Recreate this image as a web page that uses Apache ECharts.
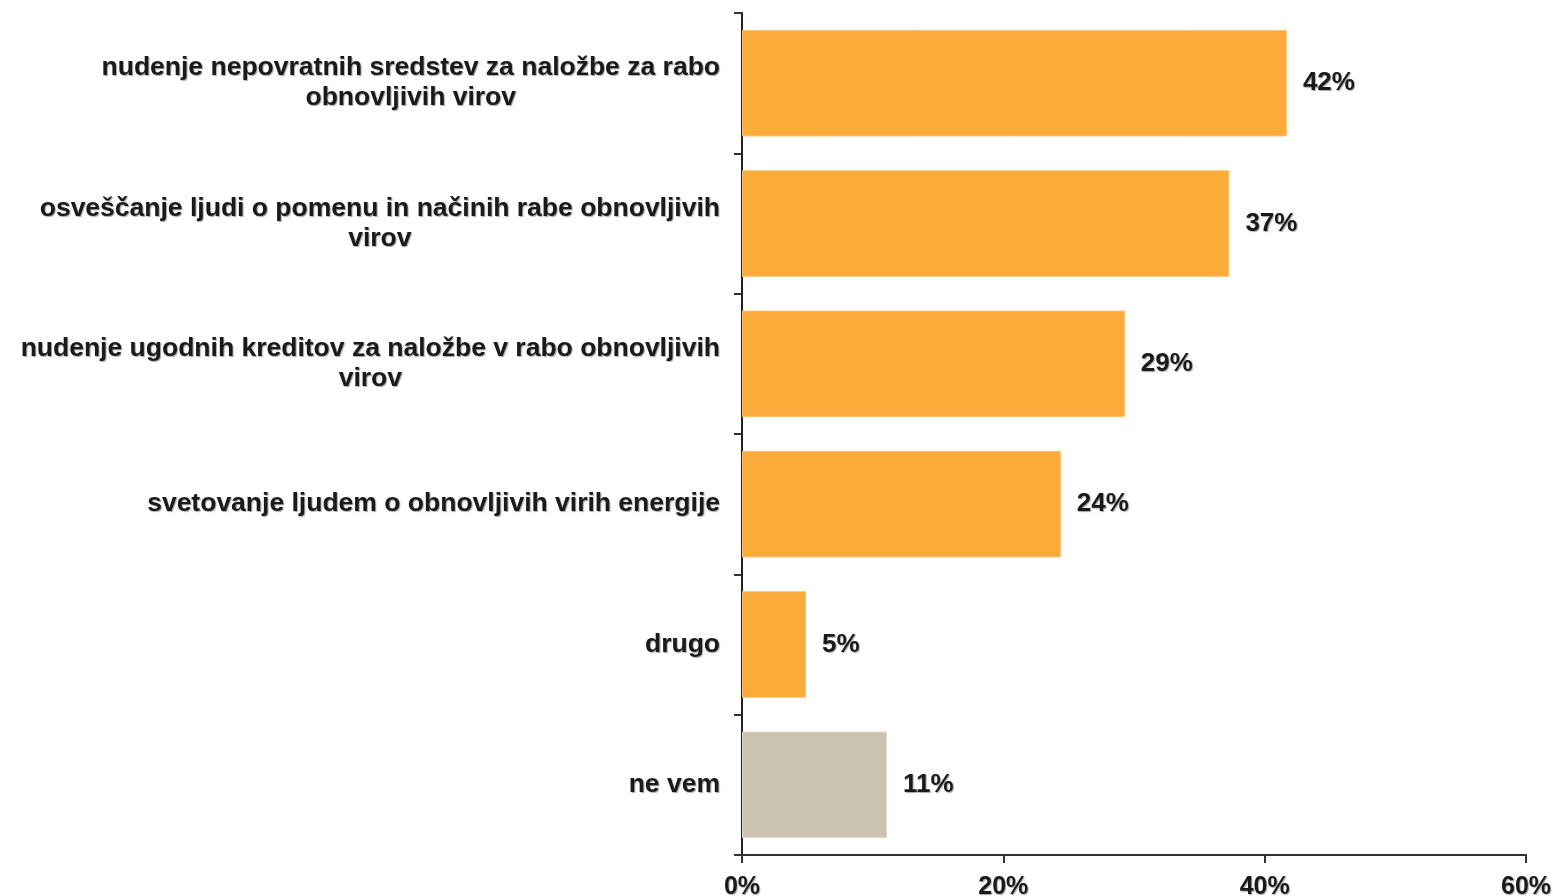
<!DOCTYPE html>
<html>
<head>
<meta charset="utf-8">
<script src="https://cdn.jsdelivr.net/npm/echarts/dist/echarts.min.js"></script>
<style>
  html, body { margin: 0; padding: 0; background: #fff; }
  #container { width: 1553px; height: 896px; }
</style>
</head>
<body>
<div id="container"></div>
<script>
// podatki (v %)
var categories = [
    'nudenje nepovratnih sredstev za naložbe za rabo\nobnovljivih virov',
    'osveščanje ljudi o pomenu in načinih rabe obnovljivih\nvirov',
    'nudenje ugodnih kreditov za naložbe v rabo obnovljivih\nvirov',
    'svetovanje ljudem o obnovljivih virih energije',
    'drugo',
    'ne vem'
];
var values = [41.7, 37.3, 29.3, 24.4, 4.9, 11.1];
var barColors = ['#fbab39', '#fbab39', '#fbab39', '#fbab39', '#fbab39', '#cbc2b2'];

var fontFamily = '"Liberation Sans", Arial, sans-serif';
var textShadow = {
    textShadowColor: 'rgba(0,0,0,0.35)',
    textShadowOffsetX: 1,
    textShadowOffsetY: 1,
    textShadowBlur: 1
};

var myChart = echarts.init(document.getElementById('container'));

var barData = [];
for (var i = 0; i < values.length; i++) {
    barData.push({
        value: values[i],
        itemStyle: {
            color: barColors[i],
            borderColor: i == 5 ? '#e2dacd' : '#fdc57a',
            borderWidth: 1
        }
    });
}

var option = {
    animation: false,
    grid: {
        left: 742,
        right: 27,
        top: 13,
        bottom: 41,
        outerBoundsMode: 'none'
    },
    xAxis: {
        type: 'value',
        min: 0,
        max: 60,
        interval: 20,
        splitLine: { show: false },
        axisLine: { show: true, lineStyle: { color: '#333', width: 2 } },
        axisTick: { show: true, length: 8, lineStyle: { color: '#333', width: 2 } },
        axisLabel: Object.assign({
            formatter: '{value}%',
            margin: 20,
            fontSize: 25,
            fontWeight: 'bold',
            fontFamily: fontFamily,
            color: '#1a1a1a'
        }, textShadow)
    },
    yAxis: {
        type: 'category',
        inverse: true,
        data: categories,
        axisLine: { show: true, lineStyle: { color: '#222', width: 2 } },
        axisTick: { show: true, length: 8, lineStyle: { color: '#333', width: 2 } },
        axisLabel: {
            margin: 22,
            formatter: function (v) {
                // vsaka vrstica je sredinsko poravnana
                return v.split('\n').map(function (l) { return '{c|' + l + '}'; }).join('\n');
            },
            rich: {
                c: Object.assign({
                    align: 'center',
                    fontSize: 26.5,
                    fontWeight: 'bold',
                    fontFamily: fontFamily,
                    color: '#1a1a1a',
                    lineHeight: 30
                }, textShadow)
            }
        }
    },
    series: [{
        type: 'bar',
        barWidth: '76%',
        data: barData,
        label: Object.assign({
            show: true,
            position: 'right',
            distance: 16,
            formatter: function (p) { return Math.round(p.value) + '%'; },
            fontSize: 26,
            fontWeight: 'bold',
            fontFamily: fontFamily,
            color: '#1a1a1a'
        }, textShadow)
    }]
};
myChart.setOption(option);
</script>
</body>
</html>
